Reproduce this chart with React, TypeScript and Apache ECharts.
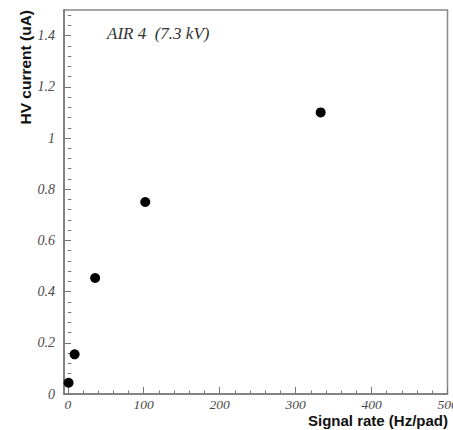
import React, { useEffect, useRef } from "react";
import * as echarts from "echarts";

const rates = [1, 9, 36, 102, 333];
const currents = [0.044, 0.155, 0.453, 0.75, 1.1];
const xTicks = [0, 100, 200, 300, 400, 500];
const xMinorTicks = [20, 40, 60, 80, 120, 140, 160, 180, 220, 240, 260, 280, 320, 340, 360, 380, 420, 440, 460, 480];
const yTicks = [0, 0.2, 0.4, 0.6, 0.8, 1, 1.2, 1.4];
const yMinorTicks = [0.04, 0.08, 0.12, 0.16, 0.24, 0.28, 0.32, 0.36, 0.44, 0.48, 0.52, 0.56, 0.64, 0.68, 0.72, 0.76, 0.84, 0.88, 0.92, 0.96, 1.04, 1.08, 1.12, 1.16, 1.24, 1.28, 1.32, 1.36, 1.44, 1.48];
const xTitle = "Signal rate (Hz/pad)";
const yTitle = "HV current (uA)";
const note = "AIR 4  (7.3 kV)";

const axisColor = "#777";
const labelStyle = {
  fontFamily: "Liberation Serif",
  fontStyle: "italic" as const,
  fontSize: 14,
  color: "#4a4a4a",
};

export default function App() {
  const ref = useRef<HTMLDivElement>(null);
  useEffect(() => {
    if (!ref.current) return;
    const chart = echarts.init(ref.current, undefined, { renderer: "svg" });
    const xMin = -5, xMax = 500, yMin = 0, yMax = 1.5;
    chart.setOption({
      animation: false,
      backgroundColor: "#fff",
      grid: {
        left: 64,
        top: 10,
        right: 5.5,
        bottom: 36,
        show: true,
        borderColor: "#888",
        borderWidth: 1.5,
        backgroundColor: "transparent",
        outerBoundsMode: "none",
        containLabel: false,
      },
      xAxis: [
        {
          type: "value",
          min: xMin,
          max: xMax,
          splitLine: { show: false },
          axisLine: { show: true, onZero: false, lineStyle: { color: axisColor, width: 1.5 } },
          axisTick: { show: true, inside: true, length: 7, customValues: xTicks, lineStyle: { color: axisColor } },
          axisLabel: { ...labelStyle, fontSize: 13.5, margin: 3, customValues: xTicks, hideOverlap: false },
        },
        {
          type: "value",
          min: xMin,
          max: xMax,
          position: "bottom",
          splitLine: { show: false },
          axisLine: { show: false },
          axisTick: { show: true, inside: true, length: 3.5, customValues: xMinorTicks, lineStyle: { color: axisColor } },
          axisLabel: { show: false },
        },
      ],
      yAxis: [
        {
          type: "value",
          min: yMin,
          max: yMax,
          splitLine: { show: false },
          axisLine: { show: true, onZero: false, lineStyle: { color: axisColor, width: 1.5 } },
          axisTick: { show: true, inside: true, length: 7, customValues: yTicks, lineStyle: { color: axisColor } },
          axisLabel: { ...labelStyle, margin: 9, customValues: yTicks },
        },
        {
          type: "value",
          min: yMin,
          max: yMax,
          position: "left",
          splitLine: { show: false },
          axisLine: { show: false },
          axisTick: { show: true, inside: true, length: 3.5, customValues: yMinorTicks, lineStyle: { color: axisColor } },
          axisLabel: { show: false },
        },
      ],
      series: [
        {
          type: "scatter",
          data: rates.map((r, i) => [r, currents[i]]),
          symbol: "circle",
          symbolSize: 10,
          itemStyle: { color: "#000", opacity: 1 },
        },
      ],
      graphic: [
        {
          type: "text",
          x: 25,
          y: 10,
          rotation: Math.PI / 2,
          style: {
            text: yTitle,
            fontFamily: "Liberation Sans",
            fontWeight: "bold",
            fontSize: 15.5,
            fill: "#111",
            align: "right",
            verticalAlign: "middle",
          },
        },
        {
          type: "text",
          x: 448,
          y: 420,
          style: {
            text: xTitle,
            fontFamily: "Liberation Sans",
            fontWeight: "bold",
            fontSize: 15,
            fill: "#111",
            align: "right",
            verticalAlign: "middle",
          },
        },
        {
          type: "text",
          x: 107,
          y: 33,
          style: {
            text: note,
            fontFamily: "Liberation Serif",
            fontStyle: "italic",
            fontSize: 17,
            fill: "#333",
            align: "left",
            verticalAlign: "middle",
          },
        },
      ],
    });
    return () => chart.dispose();
  }, []);
  return (
    <div
      ref={ref}
      style={{ position: "fixed", left: 0, top: 0, width: 453, height: 430, background: "#fff" }}
    />
  );
}
